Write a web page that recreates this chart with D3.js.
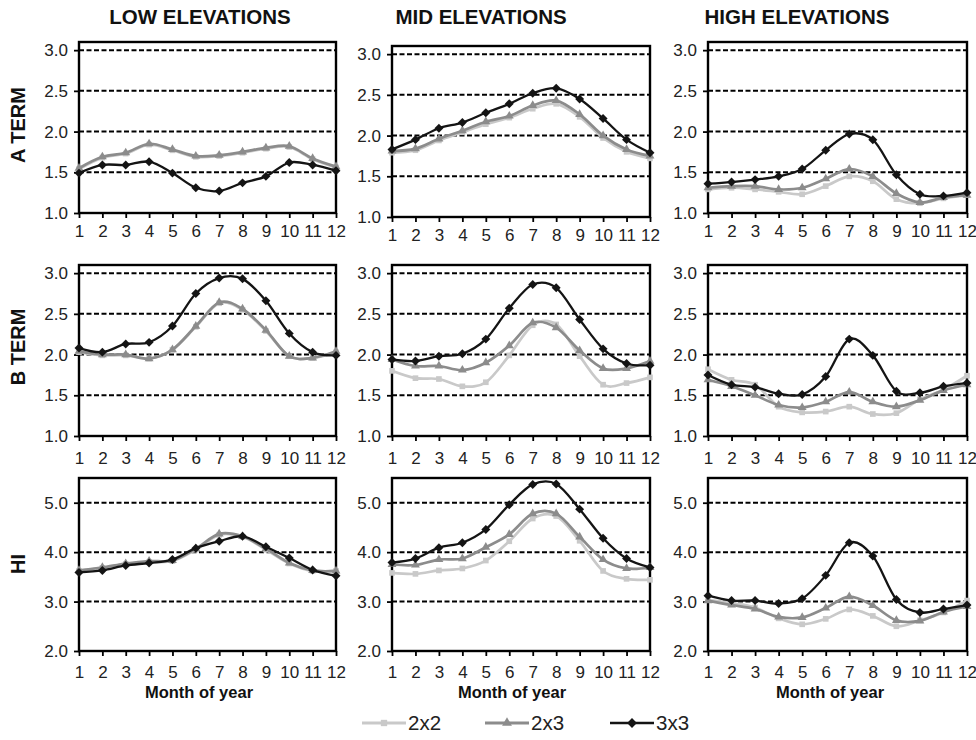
<!DOCTYPE html>
<html>
<head>
<meta charset="utf-8">
<script src="https://cdn.jsdelivr.net/npm/d3@7"></script>
<style>
  html, body { margin: 0; padding: 0; background: #fff; }
  svg { display: block; font-family: "Liberation Sans", Arial, Helvetica, sans-serif; }
</style>
</head>
<body>
<svg id="chart" width="976" height="740"></svg>
<script>
// Months on the x axis
const months = [1, 2, 3, 4, 5, 6, 7, 8, 9, 10, 11, 12];
const seriesNames = ["2x2", "2x3", "3x3"];
const columnTitles = ["LOW ELEVATIONS", "MID ELEVATIONS", "HIGH ELEVATIONS"];
const rowTitles = ["A TERM", "B TERM", "HI"];
const termTicks = [1.0, 1.5, 2.0, 2.5, 3.0];
const hiTicks = [2.0, 3.0, 4.0, 5.0];
const xAxisTitle = "Month of year";

// A term
const aLow2x2  = [1.54, 1.68, 1.73, 1.84, 1.77, 1.69, 1.70, 1.74, 1.79, 1.81, 1.66, 1.56];
const aLow2x3  = [1.55, 1.69, 1.74, 1.85, 1.78, 1.70, 1.71, 1.75, 1.80, 1.82, 1.67, 1.57];
const aLow3x3  = [1.49, 1.59, 1.59, 1.63, 1.49, 1.31, 1.27, 1.37, 1.45, 1.62, 1.59, 1.52];
const aMid2x2  = [1.79, 1.82, 1.94, 2.04, 2.14, 2.22, 2.33, 2.39, 2.23, 1.97, 1.80, 1.72];
const aMid2x3  = [1.81, 1.84, 1.96, 2.06, 2.17, 2.24, 2.37, 2.43, 2.26, 2.00, 1.83, 1.75];
const aMid3x3  = [1.83, 1.95, 2.09, 2.16, 2.28, 2.39, 2.52, 2.58, 2.45, 2.21, 1.95, 1.79];
const aHigh2x2 = [1.29, 1.31, 1.29, 1.26, 1.23, 1.33, 1.45, 1.39, 1.17, 1.12, 1.18, 1.22];
const aHigh2x3 = [1.31, 1.33, 1.33, 1.29, 1.31, 1.42, 1.54, 1.45, 1.24, 1.13, 1.19, 1.22];
const aHigh3x3 = [1.36, 1.38, 1.41, 1.45, 1.54, 1.77, 1.97, 1.90, 1.47, 1.23, 1.21, 1.25];

// B term
const bLow2x2  = [2.03, 1.99, 1.99, 1.95, 2.06, 2.34, 2.63, 2.55, 2.29, 1.98, 1.96, 2.03];
const bLow2x3  = [2.04, 2.00, 2.00, 1.95, 2.06, 2.35, 2.64, 2.56, 2.30, 1.98, 1.96, 2.04];
const bLow3x3  = [2.08, 2.03, 2.13, 2.15, 2.35, 2.75, 2.94, 2.93, 2.66, 2.26, 2.03, 1.99];
const bMid2x2  = [1.80, 1.71, 1.70, 1.61, 1.66, 1.99, 2.36, 2.37, 1.98, 1.63, 1.65, 1.72];
const bMid2x3  = [1.94, 1.86, 1.86, 1.81, 1.90, 2.11, 2.39, 2.33, 2.05, 1.83, 1.83, 1.92];
const bMid3x3  = [1.94, 1.92, 1.98, 2.01, 2.19, 2.57, 2.86, 2.82, 2.43, 2.07, 1.89, 1.87];
const bHigh2x2 = [1.82, 1.69, 1.63, 1.36, 1.29, 1.30, 1.36, 1.27, 1.28, 1.45, 1.57, 1.74];
const bHigh2x3 = [1.69, 1.61, 1.50, 1.38, 1.35, 1.42, 1.54, 1.42, 1.36, 1.44, 1.56, 1.63];
const bHigh3x3 = [1.75, 1.63, 1.60, 1.52, 1.51, 1.73, 2.19, 1.99, 1.55, 1.53, 1.61, 1.65];

// Heat index
const hiLow2x2  = [3.62, 3.68, 3.76, 3.80, 3.82, 4.05, 4.35, 4.31, 4.05, 3.77, 3.62, 3.62];
const hiLow2x3  = [3.63, 3.69, 3.77, 3.82, 3.83, 4.07, 4.37, 4.32, 4.07, 3.78, 3.63, 3.62];
const hiLow3x3  = [3.59, 3.63, 3.73, 3.78, 3.85, 4.08, 4.22, 4.32, 4.11, 3.88, 3.64, 3.52];
const hiMid2x2  = [3.58, 3.56, 3.63, 3.67, 3.83, 4.22, 4.68, 4.73, 4.23, 3.62, 3.46, 3.44];
const hiMid2x3  = [3.75, 3.74, 3.85, 3.87, 4.10, 4.36, 4.78, 4.78, 4.31, 3.85, 3.67, 3.69];
const hiMid3x3  = [3.79, 3.87, 4.09, 4.19, 4.46, 4.96, 5.37, 5.38, 4.87, 4.28, 3.87, 3.69];
const hiHigh2x2 = [3.03, 2.97, 2.88, 2.66, 2.54, 2.65, 2.84, 2.71, 2.50, 2.62, 2.78, 3.02];
const hiHigh2x3 = [3.02, 2.93, 2.85, 2.69, 2.68, 2.87, 3.10, 2.92, 2.62, 2.61, 2.79, 2.90];
const hiHigh3x3 = [3.12, 3.02, 3.02, 2.96, 3.06, 3.53, 4.19, 3.92, 3.04, 2.78, 2.85, 2.93];

const panelData = [
  [[aLow2x2, aLow2x3, aLow3x3], [aMid2x2, aMid2x3, aMid3x3], [aHigh2x2, aHigh2x3, aHigh3x3]],
  [[bLow2x2, bLow2x3, bLow3x3], [bMid2x2, bMid2x3, bMid3x3], [bHigh2x2, bHigh2x3, bHigh3x3]],
  [[hiLow2x2, hiLow2x3, hiLow3x3], [hiMid2x2, hiMid2x3, hiMid3x3], [hiHigh2x2, hiHigh2x3, hiHigh3x3]]
];

// Layout
const colX = [[79, 336], [392, 650], [708, 967]];
const rowY = [[42, 213], [265, 436], [478, 651]];
const rowDomain = [[1, 3.1], [1, 3.1], [2, 5.5]];
const rowTicks = [termTicks, termTicks, hiTicks];
const tickFmt = d3.format(".1f");
const xLabelOffset = [19, 23, 22];
const panelShift = (r, c) => (r === 0 && c === 1 ? 4 : 0);

// Regular (square-shaped) diamond marker
const diamondSquare = {
  draw(ctx, size) {
    const h = Math.sqrt(size / 2);
    ctx.moveTo(0, -h); ctx.lineTo(h, 0); ctx.lineTo(0, h); ctx.lineTo(-h, 0); ctx.closePath();
  }
};

const style = {
  "2x2": { color: "#c9c9c9", width: 2.7, symbol: d3.symbolSquare, size: 32 },
  "2x3": { color: "#8c8c8c", width: 2.7, symbol: d3.symbolTriangle, size: 34 },
  "3x3": { color: "#141414", width: 2.3, symbol: diamondSquare, size: 40 }
};

const svg = d3.select("#chart");

// Column titles
const titleX = [200, 481, 797];
columnTitles.forEach((t, i) => {
  svg.append("text").attr("x", titleX[i]).attr("y", 24)
    .attr("text-anchor", "middle").attr("font-weight", "bold")
    .attr("font-size", 20.5).attr("fill", "#111").text(t);
});

// Row titles
const rowTitleY = [125, 347, 564];
rowTitles.forEach((t, i) => {
  svg.append("text")
    .attr("transform", `translate(25,${rowTitleY[i]}) rotate(-90)`)
    .attr("text-anchor", "middle").attr("font-weight", "bold")
    .attr("font-size", 20).attr("fill", "#111").text(t);
});

for (let r = 0; r < 3; r++) {
  for (let c = 0; c < 3; c++) {
    const dy = panelShift(r, c);
    const x = d3.scaleLinear().domain([1, 12]).range(colX[c]);
    const y = d3.scaleLinear().domain(rowDomain[r]).range([rowY[r][1] + dy, rowY[r][0] + dy]);
    const g = svg.append("g");

    // dashed gridlines
    g.selectAll("line.grid").data(rowTicks[r].slice(1)).enter().append("line")
      .attr("x1", colX[c][0]).attr("x2", colX[c][1])
      .attr("y1", d => y(d)).attr("y2", d => y(d))
      .attr("stroke", "#000").attr("stroke-width", 2)
      .attr("stroke-dasharray", "5,2.5");

    // y axis
    const yAxis = d3.axisLeft(y).tickValues(rowTicks[r]).tickFormat(tickFmt)
      .tickSize(5).tickPadding(6);
    const ya = g.append("g").attr("transform", `translate(${colX[c][0]},0)`).call(yAxis);
    ya.select(".domain").remove();
    ya.selectAll(".tick line").attr("stroke", "#000").attr("stroke-width", 1.8);
    ya.selectAll(".tick text").attr("font-size", 17).attr("fill", "#222")
      .attr("font-family", "Liberation Sans, Arial, sans-serif");

    // x axis
    const xAxis = d3.axisBottom(x).tickValues(months).tickFormat(d3.format("d"))
      .tickSize(5).tickPadding(xLabelOffset[r] - 12);
    const xa = g.append("g").attr("transform", `translate(0,${y.range()[0]})`).call(xAxis);
    xa.select(".domain").remove();
    xa.selectAll(".tick line").attr("stroke", "#000").attr("stroke-width", 1.8);
    xa.selectAll(".tick text").attr("font-size", 17).attr("fill", "#222")
      .attr("font-family", "Liberation Sans, Arial, sans-serif");

    // frame
    g.append("rect")
      .attr("x", colX[c][0]).attr("y", y.range()[1])
      .attr("width", colX[c][1] - colX[c][0]).attr("height", y.range()[0] - y.range()[1])
      .attr("fill", "none").attr("stroke", "#000").attr("stroke-width", 2.4);

    // series
    const line = d3.line().x((d, i) => x(months[i])).y(d => y(d))
      .curve(d3.curveCardinal.tension(0));
    panelData[r][c].forEach((vals, si) => {
      const st = style[seriesNames[si]];
      g.append("path").datum(vals).attr("d", line)
        .attr("fill", "none").attr("stroke", st.color).attr("stroke-width", st.width);
      g.selectAll(null).data(vals).enter().append("path")
        .attr("d", d3.symbol().type(st.symbol).size(st.size))
        .attr("transform", (d, i) => `translate(${x(months[i])},${y(d)})`)
        .attr("fill", st.color);
    });

    if (r === 2) {
      const mx = [199, 512, 830];
      svg.append("text").attr("x", mx[c]).attr("y", 698)
        .attr("text-anchor", "middle").attr("font-weight", "bold")
        .attr("font-size", 16.5).attr("fill", "#111").text(xAxisTitle);
    }
  }
}

// Legend
const legendX = [362, 485, 610];
const legendY = 723;
seriesNames.forEach((s, i) => {
  const st = style[s];
  const lg = svg.append("g").attr("transform", `translate(${legendX[i]},${legendY})`);
  lg.append("line").attr("x1", 0).attr("x2", 44).attr("y1", 0).attr("y2", 0)
    .attr("stroke", st.color).attr("stroke-width", st.width + 0.4);
  lg.append("path").attr("d", d3.symbol().type(st.symbol).size(st.size + 8))
    .attr("transform", "translate(22,0)").attr("fill", st.color);
  lg.append("text").attr("x", 46).attr("y", 7).attr("font-size", 20.5)
    .attr("fill", "#222").text(s);
});
</script>
</body>
</html>
